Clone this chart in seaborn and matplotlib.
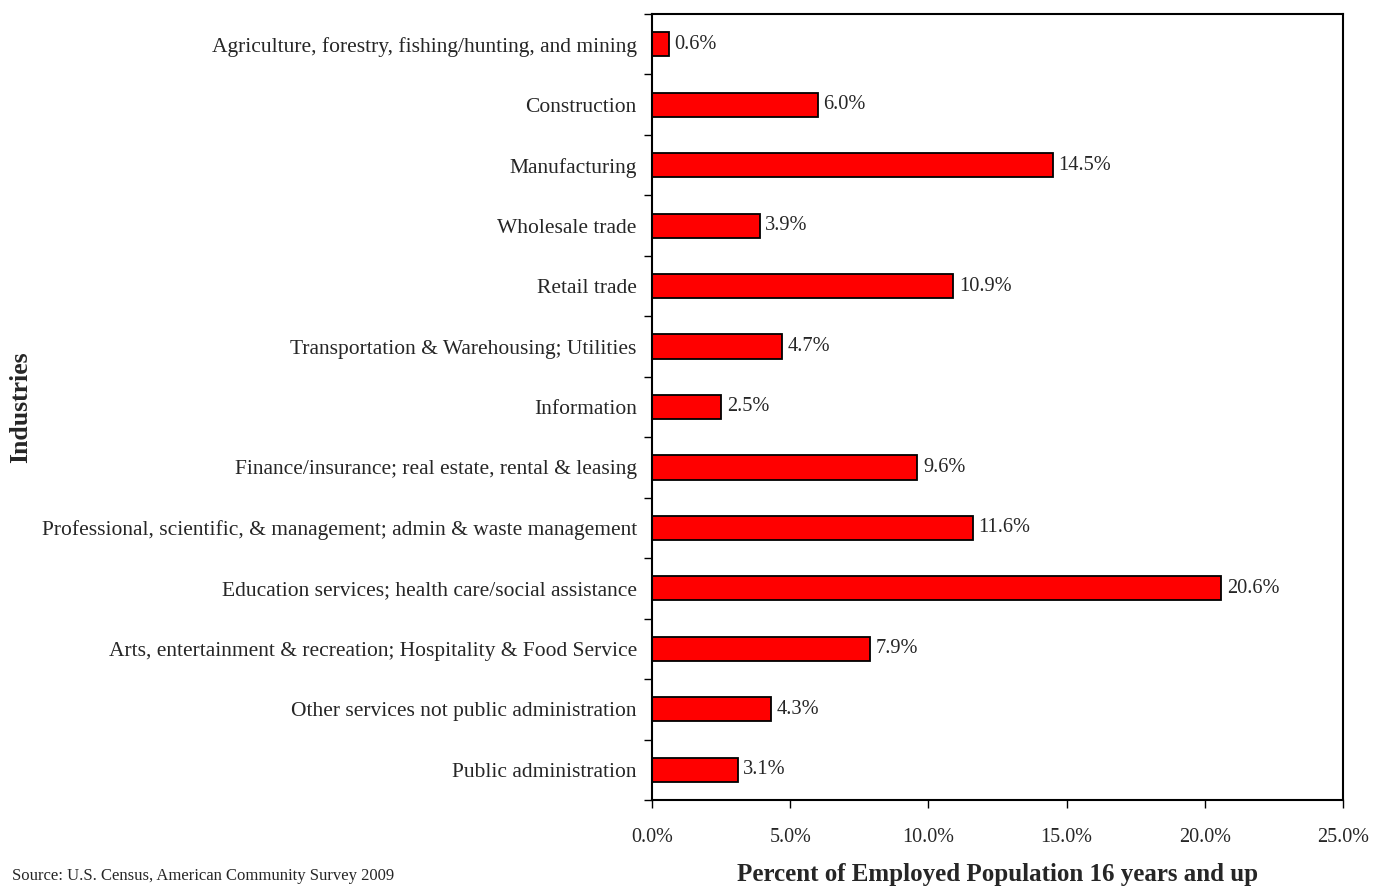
import matplotlib
matplotlib.use("Agg")
import matplotlib.pyplot as plt
import seaborn as sns
import pandas as pd
import numpy as np
from matplotlib.ticker import FixedLocator, FuncFormatter

industries = [
    "Agriculture, forestry, fishing/hunting, and mining",
    "Construction",
    "Manufacturing",
    "Wholesale trade",
    "Retail trade",
    "Transportation & Warehousing; Utilities",
    "Information",
    "Finance/insurance; real estate, rental & leasing",
    "Professional, scientific, & management; admin & waste management",
    "Education services; health care/social assistance",
    "Arts, entertainment & recreation; Hospitality & Food Service",
    "Other services not public administration",
    "Public administration",
]
percent = [0.6, 6.0, 14.5, 3.9, 10.9, 4.7, 2.5, 9.6, 11.6, 20.6, 7.9, 4.3, 3.1]
x_ticks = [0, 5, 10, 15, 20, 25]

df = pd.DataFrame({"Industry": industries, "Percent": percent})

sns.set_style("white")
plt.rcParams["font.family"] = ["Liberation Serif", "DejaVu Serif"]

fig = plt.figure(figsize=(13.73, 8.86), dpi=100)
ax = fig.add_axes([0.4749, 0.0971, 0.5032, 0.8871])

sns.barplot(data=df, x="Percent", y="Industry", orient="h", color="#ff0000",
            saturation=1, edgecolor="black", linewidth=1.3, width=0.4, ax=ax)

# value labels, vertically centred on each bar
for txt in ax.bar_label(ax.containers[0],
                        labels=[f"{v:.1f}%" for v in percent],
                        padding=4, fontsize=14.7):
    txt.set_va("center")

ax.set_xlim(0, 25)
ax.set_ylim(len(industries) - 0.5, -0.5)
ax.xaxis.set_major_locator(FixedLocator(x_ticks))
ax.xaxis.set_major_formatter(FuncFormatter(lambda v, p: f"{v:.1f}%"))
ax.tick_params(axis="x", which="major", direction="out", length=6, width=1,
               color="black", labelsize=14.5, pad=14, bottom=True)
ax.tick_params(axis="y", which="major", length=0, labelsize=15.5, pad=11)
ax.yaxis.set_minor_locator(FixedLocator(np.arange(-0.5, len(industries), 1.0)))
ax.tick_params(axis="y", which="minor", direction="out", length=6, width=1,
               color="black", left=True)

for s in ax.spines.values():
    s.set_visible(True)
    s.set_color("black")
    s.set_linewidth(1.5)

ax.set_xlabel("Percent of Employed Population 16 years and up",
              fontsize=18, fontweight="bold", labelpad=12)
ax.set_ylabel("")
fig.text(0.015, 1 - 407 / 886, "Industries", rotation=90, ha="center",
         va="center", fontsize=18.5, fontweight="bold")
fig.text(0.009, 0.002, "Source: U.S. Census, American Community Survey 2009",
         fontsize=12, ha="left", va="bottom")

fig.savefig("out.png", dpi=100)
